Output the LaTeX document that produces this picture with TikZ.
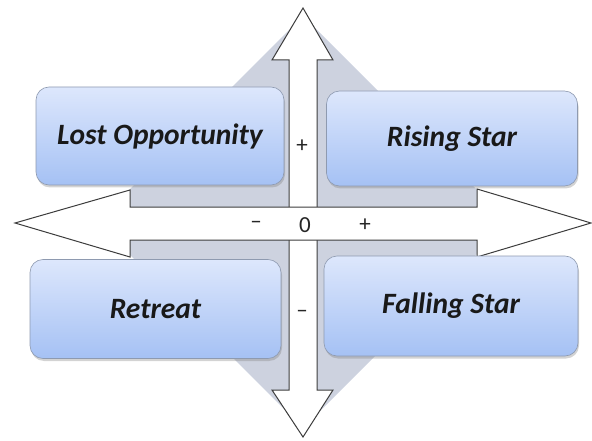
\documentclass[tikz,border=0pt]{standalone}
\usepackage{fontspec}
\setmainfont{Carlito}
\usetikzlibrary{shadows}
\definecolor{diamondgray}{HTML}{CDD2DF}
\definecolor{edgegray}{HTML}{3C3C3C}
\definecolor{boxtop}{HTML}{DDE7FC}
\definecolor{boxbottom}{HTML}{A5C1F4}
\definecolor{boxline}{HTML}{8E9AB0}
\tikzset{
  quadrant/.style={rounded corners=13pt, draw=boxline, line width=0.6pt,
    top color=boxtop, bottom color=boxbottom,
    drop shadow={opacity=0.35, shadow xshift=1pt, shadow yshift=-2.5pt},
    font=\fontsize{29.5}{32}\selectfont\bfseries\itshape, text=black!90},
  bigarrow/.style={fill=white, draw=edgegray, line width=1pt, line join=miter},
  signlabel/.style={font=\fontsize{23}{25}\selectfont, text=black!85, inner sep=0pt}
}
\begin{document}
\begin{tikzpicture}[x=1pt, y=-1pt]
\useasboundingbox (0,0) rectangle (592,441);

% gray diamond behind the axes
\fill[diamondgray] (303,16) -- (509,222) -- (303,428) -- (97,222) -- cycle;

% vertical double arrow
\draw[bigarrow] (303,8) -- (333,60) -- (317,60) -- (317,390) -- (333,390)
  -- (303,437) -- (272,390) -- (289,390) -- (289,60) -- (272,60) -- cycle;

% horizontal double arrow
\draw[bigarrow] (15,223) -- (130,190) -- (130,207) -- (477,207) -- (477,189)
  -- (591,223) -- (477,257) -- (477,240) -- (130,240) -- (130,257) -- cycle;

% quadrant boxes
\node[quadrant, minimum width=248pt, minimum height=98pt] (lost) at (160,136) {Lost Opportunity};
\node[quadrant, minimum width=251pt, minimum height=95pt] (rising) at (452,138.5) {Rising Star};
\node[quadrant, minimum width=251pt, minimum height=99pt] (retreat) at (155.5,309) {Retreat};
\node[quadrant, minimum width=254pt, minimum height=100pt] (falling) at (451,306) {Falling Star};

% axis signs
\node[signlabel] (vplus) at (302,146) {+};
\node[signlabel] (vminus) at (302,314) {\textendash};
\node[signlabel] (hminus) at (256,225) {\textendash};
\node[signlabel] (hzero) at (305,225) {0};
\node[signlabel] (hplus) at (365,225) {+};
\end{tikzpicture}
\end{document}
